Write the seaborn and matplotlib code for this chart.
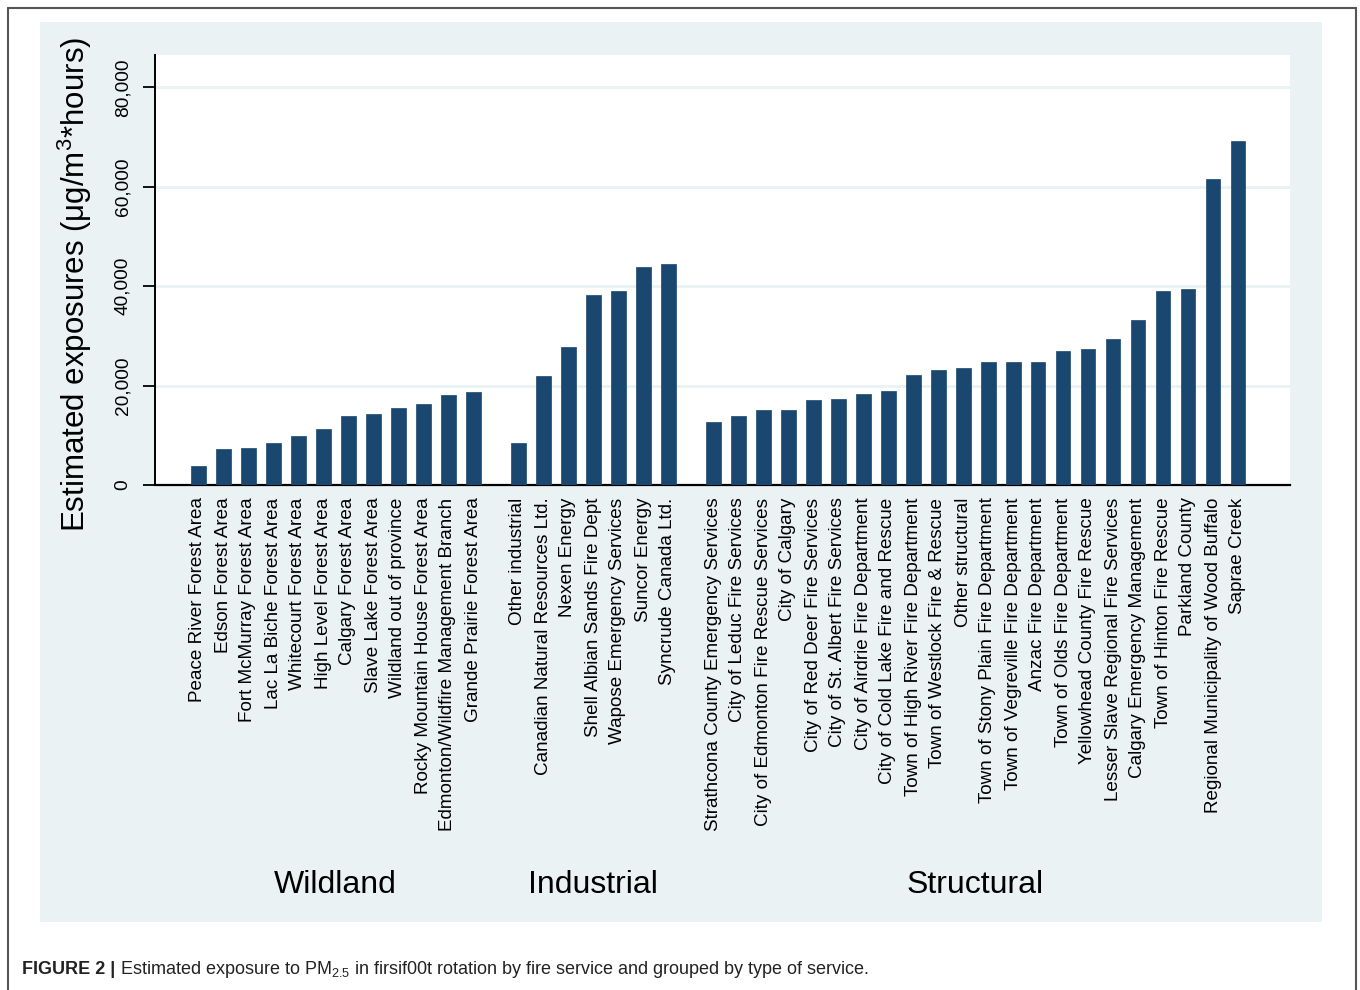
import numpy as np
import pandas as pd
import matplotlib
matplotlib.use("Agg")
import matplotlib.pyplot as plt
import matplotlib.patches as mpatches
import matplotlib.transforms as mtransforms
import seaborn as sns

# ---------------- data ----------------
wildland_labels = [
    "Peace River Forest Area", "Edson Forest Area", "Fort McMurray Forest Area",
    "Lac La Biche Forest Area", "Whitecourt Forest Area", "High Level Forest Area",
    "Calgary Forest Area", "Slave Lake Forest Area", "Wildland out of province",
    "Rocky Mountain House Forest Area", "Edmonton/Wildfire Management Branch",
    "Grande Prairie Forest Area",
]
wildland_values = [3900, 7200, 7500, 8400, 9900, 11300, 13800, 14200, 15400, 16200, 18200, 18800]

industrial_labels = [
    "Other industrial", "Canadian Natural Resources Ltd.", "Nexen Energy",
    "Shell Albian Sands Fire Dept", "Wapose Emergency Services", "Suncor Energy",
    "Syncrude Canada Ltd.",
]
industrial_values = [8500, 22000, 27700, 38200, 39000, 43800, 44400]

structural_labels = [
    "Strathcona County Emergency Services", "City of Leduc Fire Services",
    "City of Edmonton Fire Rescue Services", "City of Calgary",
    "City of Red Deer Fire Services", "City of St. Albert Fire Services",
    "City of Airdrie Fire Department", "City of Cold Lake Fire and Rescue",
    "Town of High River Fire Department", "Town of Westlock Fire & Rescue",
    "Other structural", "Town of Stony Plain Fire Department",
    "Town of Vegreville Fire Department", "Anzac Fire Department",
    "Town of Olds Fire Department", "Yellowhead County Fire Rescue",
    "Lesser Slave Regional Fire Services", "Calgary Emergency Management",
    "Town of Hinton Fire Rescue", "Parkland County",
    "Regional Municipality of Wood Buffalo", "Saprae Creek",
]
structural_values = [12700, 13800, 15000, 15000, 17100, 17300, 18400, 19000, 22200, 23200,
                     23500, 24700, 24700, 24700, 26900, 27300, 29300, 33200, 39100, 39500,
                     61600, 69100]

group_names = ["Wildland", "Industrial", "Structural"]
y_ticks = [0, 20000, 40000, 60000, 80000]
y_tick_labels = ["0", "20,000", "40,000", "60,000", "80,000"]
y_label = "Estimated exposures (μg/m$^{3}$*hours)"
caption_bold = "FIGURE 2 |"
caption_text = " Estimated exposure to PM$_{2.5}$ in firsif00t rotation by fire service and grouped by type of service."

# ---------------- layout helpers ----------------
GAP = 0.8
groups = [
    (group_names[0], wildland_labels, wildland_values),
    (group_names[1], industrial_labels, industrial_values),
    (group_names[2], structural_labels, structural_values),
]
rows = []
start = 0.0
centers = []
for gi, (gname, labs, vals) in enumerate(groups):
    pos = [start + i for i in range(len(labs))]
    centers.append((pos[0] + pos[-1]) / 2)
    for p, l, v in zip(pos, labs, vals):
        rows.append({"pos": p, "label": l, "value": v, "group": gname})
    start = pos[-1] + 1 + GAP
df = pd.DataFrame(rows)

# ---------------- styling ----------------
sns.set_theme(style="white")
plt.rcParams["font.family"] = ["Liberation Sans", "DejaVu Sans"]
plt.rcParams["mathtext.fontset"] = "custom"
plt.rcParams["mathtext.rm"] = "Liberation Sans"
plt.rcParams["mathtext.it"] = "Liberation Sans:italic"
plt.rcParams["mathtext.bf"] = "Liberation Sans:bold"

NAVY = "#1A476F"
PANEL = "#EAF2F3"

W, H = 1360, 990
fig = plt.figure(figsize=(W / 100, H / 100), dpi=100, facecolor="white")

def fx(px):
    return px / W

def fy(py):
    return 1 - py / H

# outer frame (left, top, right lines)
fig.add_artist(plt.Line2D([fx(8), fx(8)], [fy(8), 0], color="#555555", lw=1.5))
fig.add_artist(plt.Line2D([fx(8), fx(1356)], [fy(8), fy(8)], color="#555555", lw=1.5))
fig.add_artist(plt.Line2D([fx(1356), fx(1356)], [fy(8), 0], color="#555555", lw=1.5))

# graph panel
fig.add_artist(mpatches.Rectangle((fx(40), fy(922)), fx(1322) - fx(40), fy(22) - fy(922),
                                  transform=fig.transFigure, facecolor=PANEL,
                                  edgecolor="none", zorder=0))

ax = fig.add_axes([fx(155), fy(485), fx(1290) - fx(155), fy(55) - fy(485)])
ax.set_facecolor("white")
ax.set_zorder(1)

sns.barplot(data=df, x="pos", y="value", native_scale=True, width=0.6,
            color=NAVY, saturation=1, errorbar=None, edgecolor=NAVY,
            linewidth=0.5, ax=ax, zorder=3)

first_px, step_px = 198, 25
ax.set_xlim((155 - first_px) / step_px, (1290 - first_px) / step_px)
ax.set_ylim(0, 86500)

ax.set_yticks(y_ticks, y_tick_labels)
ax.set_xticks(df["pos"], df["label"])
ax.tick_params(axis="y", labelrotation=90, labelsize=13.8, length=9, width=1.3,
               direction="out", pad=8, colors="black", left=True)
for t in ax.get_yticklabels():
    t.set_va("center")
ax.tick_params(axis="x", labelrotation=90, labelsize=13.6, length=0, pad=9, colors="black")
for t in ax.get_xticklabels():
    t.set_va("top")
    t.set_ha("center")

ax.grid(axis="y", color=PANEL, lw=2, zorder=0)
ax.set_axisbelow(True)
ax.grid(axis="x", visible=False)
for s in ["top", "right"]:
    ax.spines[s].set_visible(False)
ax.spines["left"].set_color("black")
ax.spines["left"].set_linewidth(1.4)
ax.spines["bottom"].set_color("black")
ax.spines["bottom"].set_linewidth(1.6)
ax.set_xlabel("")
ax.set_ylabel("")

fig.text(fx(75), fy(284), y_label, rotation=90, ha="center", va="center",
         fontsize=22.5, color="black")

trans = mtransforms.blended_transform_factory(ax.transData, fig.transFigure)
for gname, c in zip(group_names, centers):
    ax.text(c, fy(885), gname, transform=trans, ha="center", va="center",
            fontsize=23, color="black", clip_on=False)

# caption
tb = fig.text(fx(22), fy(970), caption_bold, ha="left", va="center",
              fontsize=13, fontweight="bold", color="#222222")
fig.canvas.draw()
bb = tb.get_window_extent(renderer=fig.canvas.get_renderer())
fig.text(bb.x1 / W, fy(970), caption_text, ha="left", va="center",
         fontsize=13, color="#222222")

fig.savefig("out.png", dpi=100, facecolor="white")
